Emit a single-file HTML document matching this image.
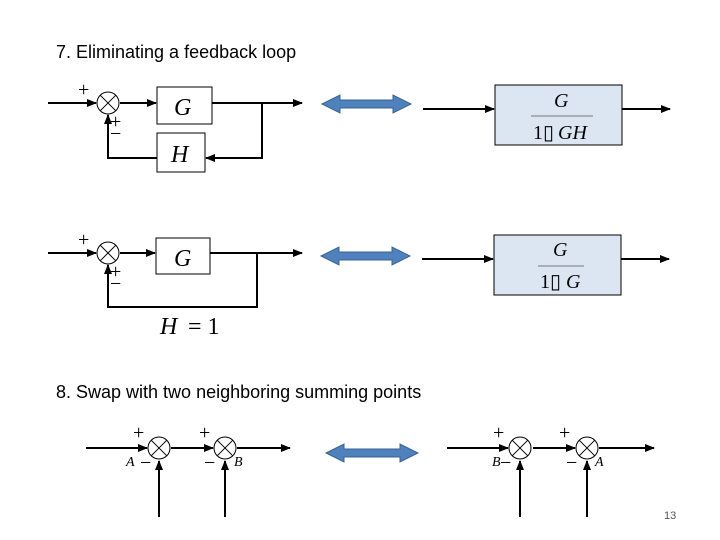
<!DOCTYPE html>
<html><head><style>
body{margin:0;background:#fff;}
svg{display:block}
.t{font-family:"Liberation Sans",sans-serif;font-size:18px;fill:#000}
.m{font-family:"Liberation Serif",serif;font-style:italic;fill:#000}
.s{font-family:"Liberation Serif",serif;fill:#000}
</style></head><body>
<svg width="720" height="540" viewBox="0 0 720 540" xmlns="http://www.w3.org/2000/svg">
<defs>
<marker id="a" markerWidth="10" markerHeight="8" refX="9" refY="4" orient="auto" markerUnits="userSpaceOnUse"><path d="M0,0 L10,4 L0,8 z" fill="#000"/></marker>
</defs>
<text class="t" x="56" y="58">7. Eliminating a feedback loop</text>
<text class="t" x="56" y="398">8. Swap with two neighboring summing points</text>
<text x="664" y="519" font-family="Liberation Sans,sans-serif" font-size="11" fill="#555">13</text>

<g stroke="#000" stroke-width="2" fill="none">
<line x1="48" y1="103" x2="96" y2="103" marker-end="url(#a)"/>
<line x1="120" y1="103" x2="156" y2="103" marker-end="url(#a)"/>
<line x1="212" y1="103" x2="302" y2="103" marker-end="url(#a)"/>
<polyline points="262,103 262,158 206,158" marker-end="url(#a)"/>
<polyline points="157,158 108,158 108,115" marker-end="url(#a)"/>
<line x1="48" y1="253" x2="96" y2="253" marker-end="url(#a)"/>
<line x1="120" y1="253" x2="155" y2="253" marker-end="url(#a)"/>
<line x1="210" y1="253" x2="302" y2="253" marker-end="url(#a)"/>
<polyline points="257,253 257,307 108,307 108,265" marker-end="url(#a)"/>
<line x1="423" y1="109" x2="494" y2="109" marker-end="url(#a)"/>
<line x1="622" y1="109" x2="670" y2="109" marker-end="url(#a)"/>
<line x1="422" y1="259" x2="493" y2="259" marker-end="url(#a)"/>
<line x1="621" y1="259" x2="669" y2="259" marker-end="url(#a)"/>
<line x1="86" y1="448" x2="147" y2="448" marker-end="url(#a)"/>
<line x1="171" y1="448" x2="213" y2="448" marker-end="url(#a)"/>
<line x1="237" y1="448" x2="290" y2="448" marker-end="url(#a)"/>
<line x1="159" y1="517" x2="159" y2="461" marker-end="url(#a)"/>
<line x1="225" y1="517" x2="225" y2="461" marker-end="url(#a)"/>
<line x1="447" y1="448" x2="508" y2="448" marker-end="url(#a)"/>
<line x1="533" y1="448" x2="575" y2="448" marker-end="url(#a)"/>
<line x1="599" y1="448" x2="654" y2="448" marker-end="url(#a)"/>
<line x1="520" y1="517" x2="520" y2="461" marker-end="url(#a)"/>
<line x1="587" y1="517" x2="587" y2="461" marker-end="url(#a)"/>
</g>

<g stroke="#000" stroke-width="1" fill="#fff">
<rect x="157" y="87" width="55" height="37"/>
<rect x="157" y="133" width="48" height="39"/>
<rect x="156" y="238" width="54" height="36"/>
<rect x="495" y="85" width="127" height="60" fill="#dce6f2"/>
<rect x="494" y="235" width="127" height="60" fill="#dce6f2"/>
</g>

<g stroke="#000" stroke-width="1" fill="#fff">
<g transform="translate(108,103)"><circle r="11"/><path d="M-7.8,-7.8L7.8,7.8M-7.8,7.8L7.8,-7.8"/></g>
<g transform="translate(108,253)"><circle r="11"/><path d="M-7.8,-7.8L7.8,7.8M-7.8,7.8L7.8,-7.8"/></g>
<g transform="translate(159,448)"><circle r="11"/><path d="M-7.8,-7.8L7.8,7.8M-7.8,7.8L7.8,-7.8"/></g>
<g transform="translate(225,448)"><circle r="11"/><path d="M-7.8,-7.8L7.8,7.8M-7.8,7.8L7.8,-7.8"/></g>
<g transform="translate(520,448)"><circle r="11"/><path d="M-7.8,-7.8L7.8,7.8M-7.8,7.8L7.8,-7.8"/></g>
<g transform="translate(587,448)"><circle r="11"/><path d="M-7.8,-7.8L7.8,7.8M-7.8,7.8L7.8,-7.8"/></g>
</g>

<g class="s" font-size="20">
<text x="78" y="96">+</text><text x="110" y="128">+</text><text x="110" y="140">−</text>
<text x="78" y="246">+</text><text x="110" y="278">+</text><text x="110" y="290">−</text>
<text x="133" y="439">+</text><text x="199" y="439">+</text><text x="140" y="469">−</text><text x="204" y="469">−</text>
<text x="493" y="439">+</text><text x="559" y="439">+</text><text x="500" y="469">−</text><text x="566" y="469">−</text>
</g>
<g class="m" font-size="14">
<text x="126" y="466">A</text><text x="234" y="466">B</text>
<text x="492" y="466">B</text><text x="595" y="466">A</text>
</g>

<g class="m" font-size="24">
<text x="174" y="115">G</text>
<text x="171" y="162">H</text>
<text x="174" y="266">G</text>
<text x="160" y="334">H</text>
</g>
<text class="s" x="188" y="334" font-size="24">= 1</text>

<text class="m" x="554" y="107" font-size="20">G</text>
<line x1="531" y1="116" x2="593" y2="116" stroke="#777" stroke-width="1"/>
<text class="s" x="533" y="139" font-size="20">1▯</text>
<text class="m" x="558" y="139" font-size="20">GH</text>
<text class="m" x="553" y="256" font-size="20">G</text>
<line x1="538" y1="266" x2="584" y2="266" stroke="#777" stroke-width="1"/>
<text class="s" x="540" y="288" font-size="20">1▯</text>
<text class="m" x="566" y="288" font-size="20">G</text>

<g fill="#4f81bd" stroke="#3a6394" stroke-width="1">
<path d="M322,104 L340,95 L340,100 L393,100 L393,95 L411,104 L393,113 L393,108 L340,108 L340,113 Z"/>
<path d="M321,256 L339,247 L339,252 L392,252 L392,247 L410,256 L392,265 L392,260 L339,260 L339,265 Z"/>
<path d="M326,453 L344,444 L344,449 L400,449 L400,444 L418,453 L400,462 L400,457 L344,457 L344,462 Z"/>
</g>
</svg>
</body></html>
